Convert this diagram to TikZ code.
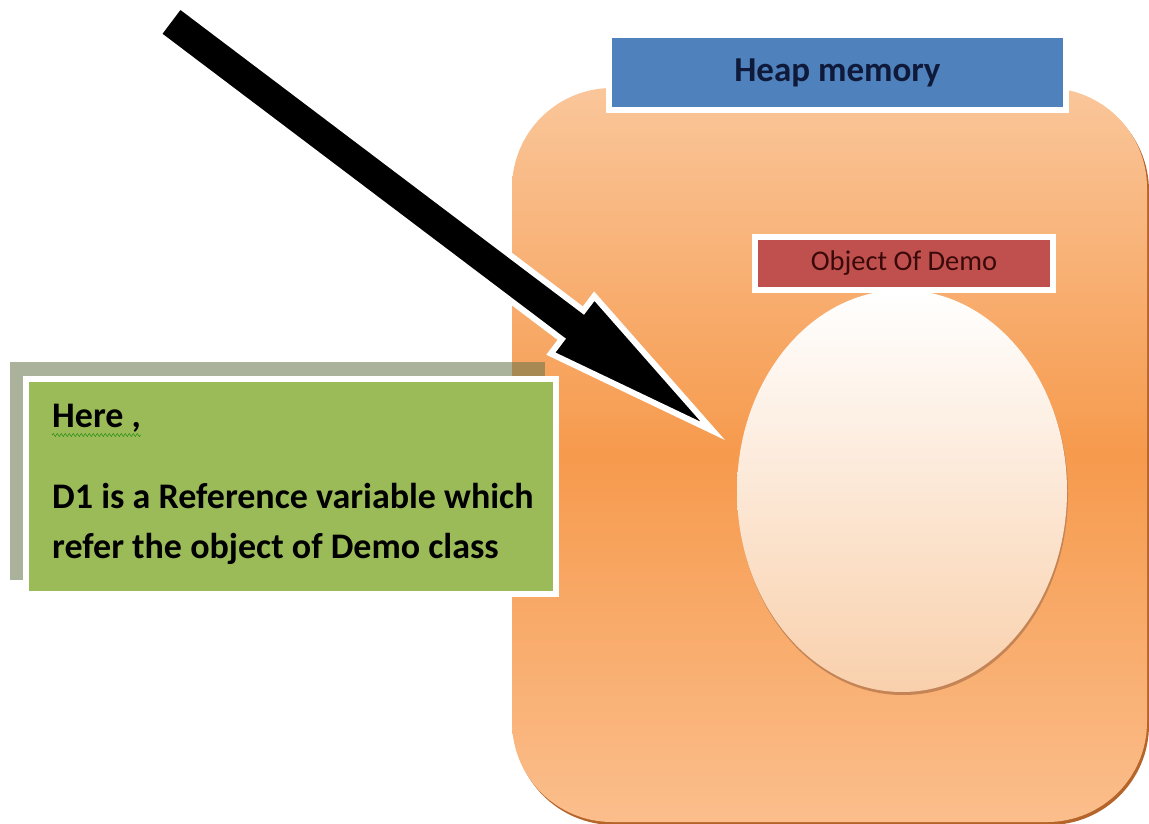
\documentclass[tikz,border=0pt]{standalone}
\usepackage{fontspec}
\setmainfont{Carlito}
\usetikzlibrary{calc,shadows,shapes.geometric,decorations.pathmorphing}
\definecolor{heaptop}{HTML}{FAC69A}
\definecolor{heapmid}{HTML}{F69A4D}
\definecolor{heapbot}{HTML}{FBBE8C}
\definecolor{heaprim}{HTML}{B5652A}
\definecolor{tagblue}{HTML}{4F81BD}
\definecolor{tagred}{HTML}{C0504D}
\definecolor{notegreen}{HTML}{9BBB59}
\definecolor{noteshade}{HTML}{64734A}
\definecolor{objpeach}{HTML}{F9D0AC}

\begin{document}
\begin{tikzpicture}[x=1pt, y=-1pt,
    heapbox/.style={rectangle, rounded corners=100pt, inner sep=0pt,
      minimum width=635pt, minimum height=734pt},
    tagbox/.style={rectangle, draw=white, line width=6pt, inner sep=0pt,
      drop shadow={shadow xshift=3pt, shadow yshift=-3pt, opacity=0.35}},
    notetext/.style={font=\fontsize{36}{40}\selectfont\bfseries, inner sep=0pt, anchor=base west}]
  \useasboundingbox (0,0) rectangle (1149,824);
  % heap area
  \node[heapbox, fill=heaprim] at (831.5,458) {};
  \node[heapbox, top color=heaptop, bottom color=heapbot, middle color=heapmid] (heap) at (829.5,455) {};
  \node[tagbox, fill=tagblue, minimum width=457pt, minimum height=75pt,
        font=\fontsize{35}{38}\selectfont\bfseries, text={rgb,255:red,15;green,26;blue,58}]
        (heaptag) at (837.5,72.5) {Heap memory};
  % object of Demo
  \node[ellipse, fill=heaprim!80, minimum width=330pt, minimum height=402pt] at (903,494) {};
  \node[ellipse, top color=white, bottom color=objpeach, minimum width=330pt, minimum height=402pt]
        (obj) at (902,491) {};
  \node[tagbox, fill=tagred, minimum width=298pt, minimum height=53pt,
        font=\fontsize{28.5}{30}\selectfont, text={rgb,255:red,58;green,10;blue,10}]
        (objtag) at (904,263.5) {Object Of Demo};
  % note
  \fill[noteshade, opacity=0.55] (10,362) rectangle (545,580);
  \node[tagbox, fill=notegreen, minimum width=530pt, minimum height=215pt] (note) at (291,486.5) {};
  \node[notetext] (here) at (52,427) {Here ,};
  \draw[green!50!black, decorate, decoration={snake, amplitude=1.5pt, segment length=4pt}]
    ($(here.base west)+(0,8)$) -- ($(here.base east)+(0,8)$);
  \node[notetext] (line1) at (52,508) {D1 is a Reference variable which};
  \node[notetext] (line2) at (52,558) {refer the object of Demo class};
  % arrow D1 --> object
  \coordinate (tail) at (169,20);
  \coordinate (tip) at (713,431);
  \coordinate (hb) at ($(tip)!176pt!(tail)$);
  \filldraw[fill=black, draw=white, line width=6pt, line join=miter,
            drop shadow={shadow xshift=2pt, shadow yshift=-2pt, opacity=0.3}]
    ($(tail)!18pt!90:(tip)$) -- ($(hb)!18pt!90:(tip)$) -- ($(hb)!36pt!90:(tip)$) -- (tip)
    -- ($(hb)!36pt!-90:(tip)$) -- ($(hb)!18pt!-90:(tip)$) -- ($(tail)!18pt!-90:(tip)$) -- cycle;
\end{tikzpicture}
\end{document}
